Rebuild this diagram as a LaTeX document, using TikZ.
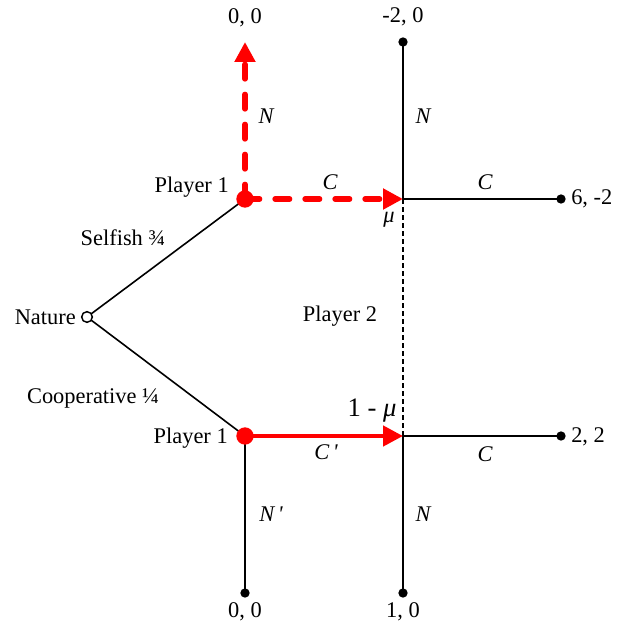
\documentclass[tikz,border=0pt]{standalone}
\usepackage{fontspec}
\setmainfont{Liberation Serif}
\usetikzlibrary{arrows.meta}
\tikzset{
  lbl/.style={inner sep=0pt, font=\fontsize{16.8}{19}\selectfont},
  ilbl/.style={lbl, font=\fontsize{16.8}{19}\selectfont\itshape},
  edge/.style={line width=1.2pt, black},
  bdot/.style={circle, fill=black, inner sep=0pt, minimum size=7pt},
  rdot/.style={circle, fill=red, inner sep=0pt, minimum size=13pt},
  hdot/.style={circle, draw=black, fill=white, line width=1.1pt, inner sep=0pt, minimum size=8pt},
  redarrow/.style={red, line width=3.4pt, -{Triangle[length=15pt,width=15pt]}},
  reddash/.style={redarrow, line width=4pt, dash pattern=on 11pt off 11.5pt, line cap=round},
  infoset/.style={line width=1.3pt, dash pattern=on 3.5pt off 2.5pt}
}
\begin{document}
\begin{tikzpicture}[x=0.75pt,y=-0.75pt]
\useasboundingbox (0,0) rectangle (618,624);
% vertices
\coordinate (nat) at (87,317);
\coordinate (p1s) at (245,199);
\coordinate (p1c) at (245,436);
\coordinate (p2s) at (403,199);
\coordinate (p2c) at (403,436);
\coordinate (t1) at (245,42);
\coordinate (t2) at (403,42);
\coordinate (t3) at (561,199);
\coordinate (t4) at (561,436);
\coordinate (t5) at (403,593);
\coordinate (t6) at (245,593);
% black edges
\draw[edge] (nat) -- (p1s);
\draw[edge] (nat) -- (p1c);
\draw[edge] (p2s) -- (t2);
\draw[edge] (p2s) -- (t3);
\draw[edge] (p2c) -- (t4);
\draw[edge] (p2c) -- (t5);
\draw[edge] (p1c) -- (t6);
\draw[infoset] (p2s) -- (p2c);
% red moves
\draw[reddash] (p1s) -- (t1);
\draw[reddash] (p1s) -- (p2s);
\draw[redarrow] (p1c) -- (p2c);
% dots
\node[hdot] (natd) at (nat) {};
\node[rdot] (p1sd) at (p1s) {};
\node[rdot] (p1cd) at (p1c) {};
\node[bdot] (t2d) at (t2) {};
\node[bdot] (t3d) at (t3) {};
\node[bdot] (t4d) at (t4) {};
\node[bdot] (t5d) at (t5) {};
\node[bdot] (t6d) at (t6) {};
% payoffs
\node[lbl] (o1) at (245,18) {0, 0};
\node[lbl] (o2) at (403,17) {-2, 0};
\node[lbl, anchor=west] (o3) at (571,199) {6, -2};
\node[lbl, anchor=west] (o4) at (571,437) {2, 2};
\node[lbl] (o5) at (403,612) {1, 0};
\node[lbl] (o6) at (245,612) {0, 0};
% player labels
\node[lbl, anchor=east] (lnat) at (76,317) {Nature};
\node[lbl, anchor=east] (lp1s) at (229,187) {Player 1};
\node[lbl, anchor=east] (lp1c) at (228,438) {Player 1};
\node[lbl] (lp2) at (340,316) {Player 2};
\node[lbl] (lsel) at (123,238) {Selfish ¾};
\node[lbl] (lcoop) at (93,398) {Cooperative ¼};
% move labels
\node[ilbl] (m1) at (266,116) {N};
\node[ilbl] (m2) at (423,116) {N};
\node[ilbl] (m3) at (423,514) {N};
\node[ilbl] (m4) at (330,182) {C};
\node[ilbl] (m5) at (485,182) {C};
\node[ilbl] (m6) at (485,454) {C};
\node[ilbl] (m7) at (326,452) {C\,ʹ};
\node[ilbl] (m8) at (271,514) {N\,ʹ};
\node[ilbl] (mu) at (389,220) {μ};
\node[lbl, font=\fontsize{20}{22}\selectfont] (omu) at (372,411) {1 - \textit{μ}};
\end{tikzpicture}
\end{document}
